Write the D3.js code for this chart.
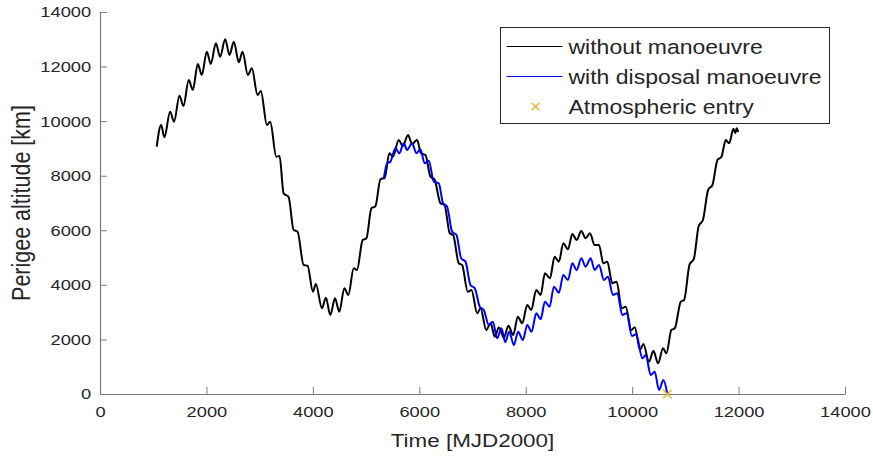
<!DOCTYPE html>
<html lang="en">
<head>
<meta charset="UTF-8">
<title>Perigee altitude</title>
<script src="https://d3js.org/d3.v7.min.js"></script>
<style>
  body { margin: 0; background: #fff; }
  text { font-family: "Liberation Sans", Arial, Helvetica, sans-serif; fill: #262626; }
</style>
</head>
<body>
<script>

// data (time in MJD2000, altitude in km)
var tNoMan = [1066, 1148, 1210, 1317, 1392, 1493, 1568, 1668, 1744, 1838, 1913, 2007, 2082, 2177, 2258, 2352,
  2434, 2515, 2609, 2678, 2779, 2854, 2960, 3023, 3136, 3199, 3312, 3374, 3450, 3544, 3638, 3713, 3826, 3901,
  4001, 4057, 4170, 4245, 4328, 4416, 4497, 4591, 4667, 4767, 4829, 4936, 5006, 5100, 5175, 5270, 5350, 5438,
  5506, 5613, 5689, 5789, 5864, 5958, 6033, 6116, 6209, 6285, 6398, 6473, 6573, 6636, 6742, 6805, 6911, 6981,
  7088, 7151, 7258, 7339, 7420, 7495, 7589, 7675, 7765, 7852, 7935, 8029, 8104, 8198, 8280, 8361, 8455, 8543,
  8624, 8706, 8794, 8876, 8957, 9045, 9126, 9207, 9295, 9377, 9458, 9533, 9627, 9709, 9803, 9879, 9985, 10050,
  10148, 10211, 10317, 10399, 10487, 10581, 10643, 10737, 10801, 10914, 10976, 11080, 11160, 11250, 11330,
  11428, 11509, 11603, 11678, 11760, 11823, 11904, 11940, 11965, 11992];
var altNoMan = [9064, 9859, 9408, 10346, 9980, 10933, 10555, 11508, 11142, 12094, 11691, 12546, 12094, 12853, 12362, 13000,
  12425, 12912, 12157, 12546, 11691, 11936, 10958, 11105, 9859, 9980, 8697, 8723, 7355, 7220, 6011, 5950, 4728, 4700,
  3749, 4032, 3141, 3530, 2895, 3508, 3017, 3874, 3628, 4607, 4545, 5644, 5706, 6806, 6880, 7870, 7920, 8821,
  8697, 9309, 9089, 9492, 9163, 9309, 8821, 8759, 7966, 7868, 6989, 6927, 5889, 5827, 4790, 4728, 3749, 3812,
  2958, 3141, 2346, 2591, 2100, 2440, 2070, 2500, 2162, 2833, 2591, 3262, 3079, 3812, 3628, 4423, 4240, 5032,
  4850, 5523, 5303, 5864, 5644, 5974, 5706, 5889, 5461, 5461, 4790, 4850, 4057, 4118, 3141, 3200, 2346, 2444,
  1613, 1833, 1184, 1588, 1125, 1675, 1491, 2346, 2408, 3383, 3445, 4750, 4950, 6150, 6377,
  7477, 7660, 8576, 8697, 9309, 9187, 9720, 9560, 9740, 9600];

var tDisposal = [5331, 5394, 5457, 5551, 5626, 5707, 5770, 5864, 5946, 6021, 6102, 6178, 6272, 6366, 6447, 6523,
  6617, 6699, 6787, 6868, 6962, 7043, 7137, 7212, 7307, 7382, 7464, 7545, 7615, 7690, 7777, 7858, 7946, 8029,
  8110, 8198, 8280, 8361, 8449, 8530, 8624, 8706, 8794, 8876, 8957, 9045, 9126, 9220, 9295, 9377, 9470, 9545,
  9639, 9721, 9815, 9897, 9995, 10077, 10192, 10255, 10349, 10424, 10505, 10587, 10662];
var altDisposal = [7880, 8453, 8514, 9003, 8821, 9187, 8943, 9187, 8821, 8968, 8453, 8551, 7782, 7721, 6989, 6865,
  5950, 5827, 4973, 4850, 3995, 3874, 3200, 3079, 2529, 2650, 2041, 2408, 1900, 2280, 1796, 2283, 1979, 2529,
  2283, 2958, 2738, 3383, 3200, 3933, 3713, 4361, 4178, 4790, 4545, 4973, 4667, 4973, 4545, 4728, 4178, 4300,
  3628, 3690, 2895, 2958, 2130, 2190, 1308, 1429, 696, 817, 147, 513, 0];

var tEntry = [10662];
var altEntry = [0];

var xTicks = [0, 2000, 4000, 6000, 8000, 10000, 12000, 14000];
var yTicks = [0, 2000, 4000, 6000, 8000, 10000, 12000, 14000];

var seriesNames = ["without manoeuvre", "with disposal manoeuvre", "Atmospheric entry"];
var seriesColors = ["#000000", "#0000ff", "#edb120"];

// layout
var W = 873, H = 461;
var margin = {top: 12, right: 28, bottom: 67, left: 100},
    width = W - margin.left - margin.right,
    height = H - margin.top - margin.bottom;
var SX = 1.18; // the glyphs in the figure are a bit wider than they are tall

var svg = d3.select("body").append("svg")
    .attr("width", W)
    .attr("height", H);

var g = svg.append("g")
    .attr("transform", "translate(" + margin.left + "," + margin.top + ")");

var x = d3.scaleLinear().domain([0, 14000]).range([0, width]);
var y = d3.scaleLinear().domain([0, 14000]).range([height, 0]);

// axes (MATLAB style: ticks inside, no box)
var xAxis = g.append("g")
    .attr("transform", "translate(0," + height + ")")
    .call(d3.axisBottom(x).tickValues(xTicks).tickFormat(d3.format("d"))
      .tickSizeInner(-7).tickSizeOuter(0).tickPadding(12));
var yAxis = g.append("g")
    .call(d3.axisLeft(y).tickValues(yTicks).tickFormat(d3.format("d"))
      .tickSizeInner(-7).tickSizeOuter(0).tickPadding(7.5));

[xAxis, yAxis].forEach(function(a) {
  a.select(".domain").attr("stroke", "#7a7a7a").attr("stroke-width", 1.2);
  a.selectAll(".tick line").attr("stroke", "#7a7a7a").attr("stroke-width", 1);
  a.selectAll(".tick text")
    .attr("fill", "#262626")
    .style("font-family", "'Liberation Sans', Arial, sans-serif")
    .style("font-size", "15.5px")
    .attr("transform", "scale(" + SX + ",1)");
});

// lines
var line = d3.line()
    .curve(d3.curveMonotoneX)
    .x(function(d) { return x(d[0]); })
    .y(function(d) { return y(d[1]); });

var noMan = d3.zip(tNoMan, altNoMan);
var disposal = d3.zip(tDisposal, altDisposal);

g.append("path")
    .datum(noMan)
    .attr("fill", "none")
    .attr("stroke", seriesColors[0])
    .attr("stroke-width", 2)
    .attr("stroke-linejoin", "round")
    .attr("d", line);

g.append("path")
    .datum(disposal)
    .attr("fill", "none")
    .attr("stroke", seriesColors[1])
    .attr("stroke-width", 2)
    .attr("stroke-linejoin", "round")
    .attr("d", line);

// entry marker
var cross = d3.symbol().type(d3.symbolTimes).size(48);
g.selectAll(".entry")
    .data(d3.zip(tEntry, altEntry))
    .enter().append("path")
    .attr("class", "entry")
    .attr("transform", function(d) { return "translate(" + x(d[0]) + "," + y(d[1]) + ")"; })
    .attr("d", cross)
    .attr("fill", "none")
    .attr("stroke", seriesColors[2])
    .attr("stroke-width", 1.4);

// axis labels
svg.append("text")
    .attr("transform", "translate(" + (margin.left + width / 2) + "," + 447 + ") scale(" + SX + ",1)")
    .attr("text-anchor", "middle")
    .style("font-size", "19px")
    .text("Time [MJD2000]");

svg.append("text")
    .attr("transform", "translate(" + 30 + "," + (margin.top + height / 2) + ") scale(" + SX + ",1) rotate(-90)")
    .attr("text-anchor", "middle")
    .style("font-size", "21.5px")
    .text("Perigee altitude [km]");

// legend
var legend = svg.append("g").attr("transform", "translate(500.5,27.5)");
legend.append("rect")
    .attr("width", 329)
    .attr("height", 96)
    .attr("fill", "#fff")
    .attr("stroke", "#262626")
    .attr("stroke-width", 1);

var rowY = [19, 49, 79];
seriesNames.forEach(function(name, i) {
  var row = legend.append("g").attr("transform", "translate(0," + rowY[i] + ")");
  if (i < 2) {
    row.append("line")
      .attr("x1", 6).attr("x2", 62)
      .attr("stroke", seriesColors[i])
      .attr("stroke-width", 1.2);
  } else {
    row.append("path")
      .attr("transform", "translate(35,0)")
      .attr("d", d3.symbol().type(d3.symbolTimes).size(40))
      .attr("fill", "none")
      .attr("stroke", seriesColors[i])
      .attr("stroke-width", 1.3);
  }
  row.append("text")
    .attr("transform", "translate(68,7) scale(" + SX + ",1)")
    .style("font-size", "19.5px")
    .text(name);
});

</script>
</body>
</html>
